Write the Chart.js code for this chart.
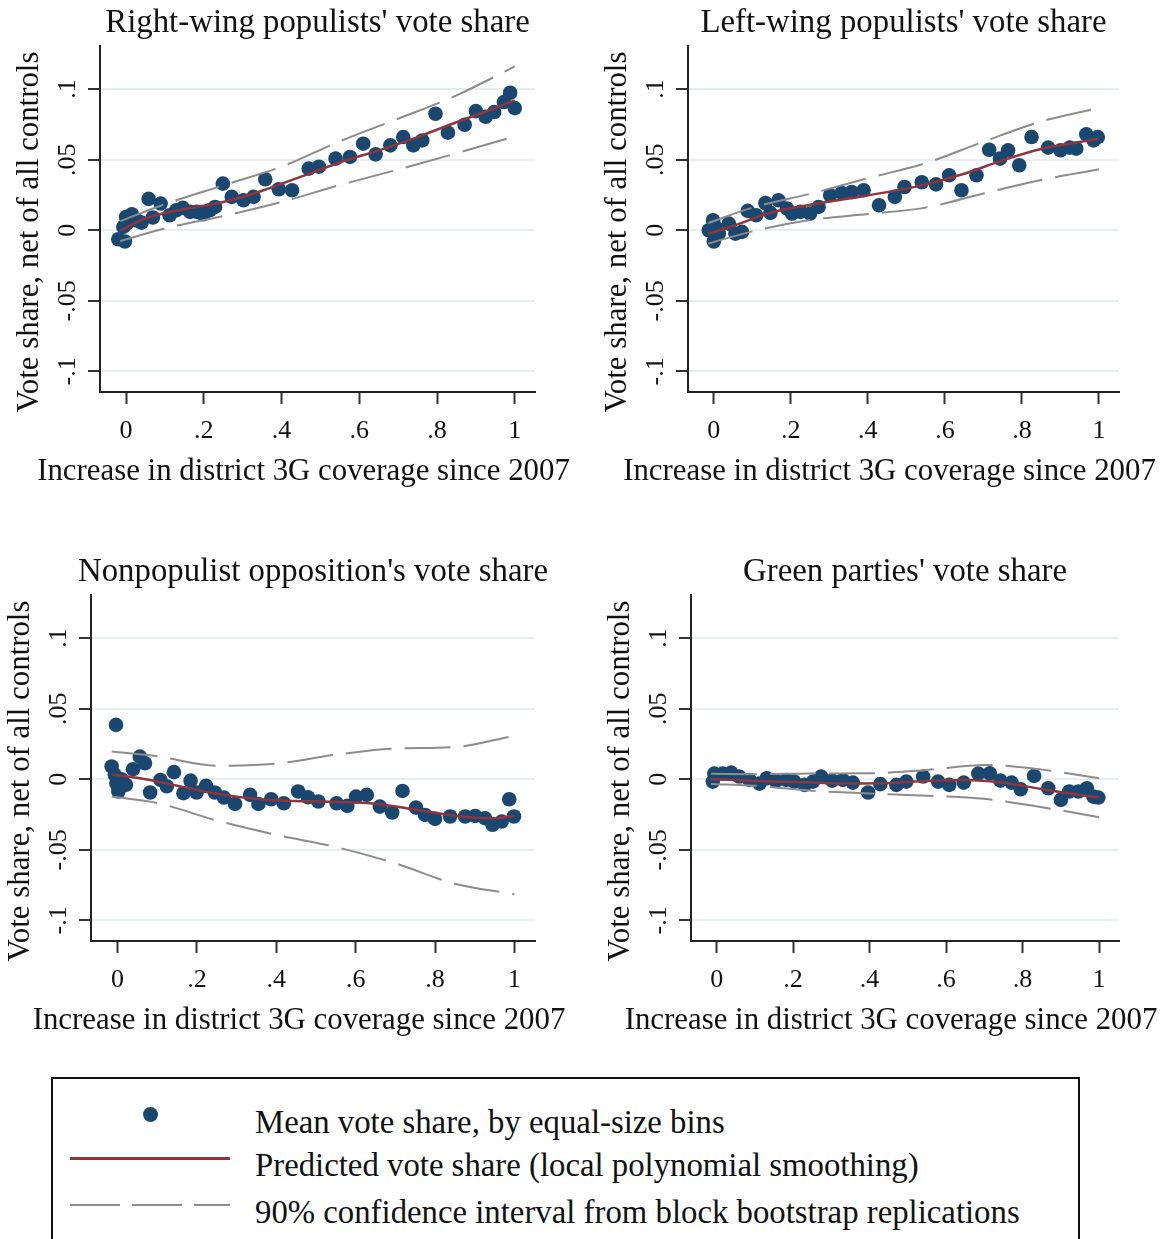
<!DOCTYPE html>
<html>
<head>
<meta charset="utf-8">
<script src="https://cdn.jsdelivr.net/npm/chart.js@4.4.1/dist/chart.umd.min.js"></script>
<style>
html,body{margin:0;padding:0;background:#fff;}
#wrap{position:relative;width:1165px;height:1239px;overflow:hidden;background:#fff;font-family:"Liberation Serif",serif;color:#111;}
#wrap canvas{position:absolute;}
#legend{position:absolute;left:51px;top:1077px;width:1029px;height:200px;border:2px solid #111;box-sizing:border-box;}
#legend .dot{position:absolute;width:15px;height:15px;border-radius:50%;background:#1a476f;}
#legend .red{position:absolute;height:3px;background:#90353b;}
#legend .dash{position:absolute;height:2.5px;background:repeating-linear-gradient(to right,#8c8c8c 0 50px,transparent 50px 62px);}
#legend .txt{position:absolute;white-space:nowrap;line-height:1;}
</style>
</head>
<body>
<div id="wrap">
  <canvas id="c1" width="583" height="540" style="left:0;top:0"></canvas>
  <canvas id="c2" width="582" height="540" style="left:583px;top:0"></canvas>
  <canvas id="c3" width="583" height="520" style="left:0;top:540px"></canvas>
  <canvas id="c4" width="582" height="520" style="left:583px;top:540px"></canvas>
  <div id="legend"></div>
</div>
<script>
// ---------- tick labels ----------
const xTickVals = [0, 0.2, 0.4, 0.6, 0.8, 1];
const xTickLabels = ["0", ".2", ".4", ".6", ".8", "1"];
const yTickVals = [-0.1, -0.05, 0, 0.05, 0.1];
const yTickLabels = ["-.1", "-.05", "0", ".05", ".1"];

const panelTitles = ["Right-wing populists' vote share", "Left-wing populists' vote share",
                     "Nonpopulist opposition's vote share", "Green parties' vote share"];
const xAxisTitle = "Increase in district 3G coverage since 2007";
const yAxisTitle = "Vote share, net of all controls";
const legendLabels = ["Mean vote share, by equal-size bins",
                      "Predicted vote share (local polynomial smoothing)",
                      "90% confidence interval from block bootstrap replications"];

// ---------- shared x grids for fitted line and CI ----------
const fitX = [-0.015, 0.05, 0.15, 0.25, 0.35, 0.45, 0.55, 0.65, 0.75, 0.85, 0.95, 1.0];
const ciX  = [-0.015, 0.1, 0.25, 0.4, 0.55, 0.7, 0.85, 1.0];

// ---------- Right-wing populists ----------
const rwX = [-0.020,-0.003,-0.007,0.002,0.000,0.015,0.027,0.040,0.058,0.069,0.089,0.112,0.129,0.146,0.165,0.182,0.199,0.215,0.229,0.249,0.272,0.302,0.328,0.358,0.393,0.427,0.470,0.496,0.539,0.576,0.610,0.642,0.680,0.713,0.739,0.762,0.796,0.828,0.871,0.900,0.925,0.947,0.972,0.988,1.000];
const rwY = [-0.0064,-0.0080,0.0024,0.0047,0.0094,0.0113,0.0070,0.0054,0.0222,0.0090,0.0189,0.0106,0.0141,0.0158,0.0130,0.0130,0.0113,0.0141,0.0165,0.0330,0.0236,0.0212,0.0236,0.0361,0.0290,0.0283,0.0436,0.0450,0.0507,0.0519,0.0613,0.0537,0.0601,0.0660,0.0601,0.0636,0.0825,0.0691,0.0747,0.0844,0.0804,0.0837,0.0908,0.0974,0.0865];
const rwFit = [-0.0003,0.0085,0.0150,0.0200,0.0280,0.0380,0.0480,0.0566,0.0660,0.0765,0.0866,0.0920];
const rwHi  = [0.0064,0.0185,0.0318,0.0450,0.0630,0.0790,0.0955,0.1160];
const rwLo  = [-0.0078,0.0013,0.0100,0.0200,0.0320,0.0430,0.0545,0.0665];

// ---------- Left-wing populists ----------
const lwX = [-0.013,-0.002,0.000,0.013,0.004,0.039,0.056,0.073,0.088,0.110,0.134,0.147,0.168,0.190,0.203,0.225,0.250,0.272,0.302,0.332,0.358,0.389,0.429,0.470,0.495,0.540,0.577,0.611,0.643,0.682,0.715,0.743,0.764,0.793,0.825,0.868,0.900,0.924,0.941,0.967,0.986,0.997];
const lwY = [0.0000,0.0071,-0.0080,-0.0024,0.0024,0.0047,-0.0024,-0.0012,0.0137,0.0106,0.0193,0.0123,0.0212,0.0153,0.0118,0.0130,0.0118,0.0165,0.0248,0.0264,0.0271,0.0283,0.0177,0.0236,0.0306,0.0340,0.0325,0.0389,0.0283,0.0389,0.0570,0.0507,0.0566,0.0460,0.0660,0.0585,0.0566,0.0585,0.0578,0.0679,0.0636,0.0660];
const lwFit = [-0.0025,0.0030,0.0125,0.0180,0.0225,0.0270,0.0325,0.0400,0.0495,0.0575,0.0625,0.0648];
const lwHi  = [0.0050,0.0160,0.0258,0.0368,0.0475,0.0627,0.0770,0.0867];
const lwLo  = [-0.0095,-0.0008,0.0072,0.0115,0.0160,0.0260,0.0356,0.0432];

// ---------- Nonpopulist opposition ----------
const npX = [-0.004,-0.015,-0.007,-0.003,0.002,0.010,0.021,0.039,0.056,0.069,0.082,0.108,0.124,0.142,0.166,0.184,0.199,0.223,0.245,0.268,0.296,0.334,0.355,0.387,0.419,0.455,0.480,0.506,0.552,0.579,0.601,0.628,0.661,0.692,0.718,0.752,0.775,0.800,0.838,0.876,0.901,0.926,0.945,0.968,0.987,0.999];
const npY = [0.0385,0.0090,0.0031,-0.0031,-0.0087,0.0000,-0.0040,0.0071,0.0160,0.0113,-0.0094,-0.0005,-0.0050,0.0050,-0.0099,-0.0010,-0.0094,-0.0047,-0.0094,-0.0130,-0.0175,-0.0111,-0.0175,-0.0142,-0.0170,-0.0087,-0.0128,-0.0158,-0.0170,-0.0189,-0.0123,-0.0111,-0.0194,-0.0236,-0.0083,-0.0201,-0.0253,-0.0281,-0.0264,-0.0264,-0.0260,-0.0276,-0.0323,-0.0300,-0.0142,-0.0264];
const npFit = [0.0035,0.0010,-0.0046,-0.0103,-0.0140,-0.0155,-0.0161,-0.0173,-0.0215,-0.0258,-0.0276,-0.0260];
const npHi  = [0.0196,0.0162,0.0096,0.0111,0.0174,0.0217,0.0228,0.0308];
const npLo  = [-0.0123,-0.0168,-0.0293,-0.0394,-0.0480,-0.0596,-0.0740,-0.0815];

// ---------- Green parties ----------
const grX = [-0.010,-0.006,0.016,0.038,0.059,0.086,0.112,0.131,0.155,0.182,0.203,0.230,0.252,0.273,0.302,0.330,0.356,0.396,0.428,0.470,0.496,0.540,0.579,0.608,0.646,0.684,0.714,0.742,0.771,0.795,0.830,0.867,0.900,0.922,0.946,0.968,0.985,0.998];
const grY = [-0.0017,0.0040,0.0040,0.0047,0.0019,-0.0005,-0.0031,0.0007,-0.0012,-0.0005,-0.0017,-0.0040,-0.0017,0.0019,-0.0010,-0.0005,-0.0024,-0.0094,-0.0035,-0.0040,-0.0017,0.0019,-0.0017,-0.0040,-0.0024,0.0040,0.0042,-0.0010,-0.0024,-0.0071,0.0024,-0.0064,-0.0146,-0.0087,-0.0087,-0.0064,-0.0123,-0.0130];
const grFit = [0.0000,-0.0006,-0.0016,-0.0024,-0.0030,-0.0027,-0.0013,-0.0006,-0.0025,-0.0070,-0.0112,-0.0128];
const grHi  = [0.0038,0.0036,0.0041,0.0042,0.0066,0.0101,0.0068,0.0007];
const grLo  = [-0.0033,-0.0046,-0.0082,-0.0101,-0.0117,-0.0139,-0.0198,-0.0269];

const FONT = '"Liberation Serif", "Times New Roman", serif';
const C_DOT = '#1a476f', C_FIT = '#90353b', C_CI = '#8c8c8c', C_GRID = '#e6eef0', C_AXIS = '#222';

function pairs(xs, ys){ return xs.map((x,i)=>({x:x, y:ys[i]})); }

function build(){
  const mc = document.createElement('canvas').getContext('2d');
  function fit(text, target){ mc.font = '100px ' + FONT; return 100*target/mc.measureText(text).width; }
  const titleTargets = [420, 402, 478, 326];
  let ts = 0; panelTitles.forEach((t,i)=>{ ts += fit(t, titleTargets[i]); });
  const titleSize = ts/4;
  const axisTitleSize = (fit(xAxisTitle, 527) + fit(yAxisTitle, 365))/2;
  const tickSize = 26;

  const textPlugin = {
    id: 'stataText',
    afterDraw(chart, args, opts){
      const ctx = chart.ctx, ca = chart.chartArea;
      const xs = chart.scales.x, ys = chart.scales.y;
      const mid = (ca.left + ca.right)/2;
      ctx.save();
      ctx.fillStyle = '#111';
      // panel title
      ctx.font = titleSize.toFixed(2) + 'px ' + FONT;
      ctx.textAlign = 'center'; ctx.textBaseline = 'alphabetic';
      ctx.fillText(opts.title, mid, ca.top - 14);
      // x tick labels
      ctx.font = tickSize + 'px ' + FONT;
      xTickVals.forEach((v,i)=>{ ctx.fillText(xTickLabels[i], xs.getPixelForValue(v), ca.bottom + 46); });
      // x axis title
      ctx.font = axisTitleSize.toFixed(2) + 'px ' + FONT;
      ctx.fillText(xAxisTitle, mid - 14, ca.bottom + 88);
      // y tick labels (rotated)
      ctx.font = tickSize + 'px ' + FONT;
      yTickVals.forEach((v,i)=>{
        ctx.save();
        ctx.translate(ca.left - 25, ys.getPixelForValue(v));
        ctx.rotate(-Math.PI/2);
        ctx.fillText(yTickLabels[i], 0, 0);
        ctx.restore();
      });
      // y axis title (rotated)
      ctx.font = axisTitleSize.toFixed(2) + 'px ' + FONT;
      ctx.save();
      ctx.translate(ca.left - 62, (ca.top + ca.bottom)/2 + 13);
      ctx.rotate(-Math.PI/2);
      ctx.fillText(yAxisTitle, 0, 0);
      ctx.restore();
      ctx.restore();
    }
  };

  function makeChart(id, title, px, py, fy, hi, lo, geo){
    const el = document.getElementById(id);
    return new Chart(el, {
      type: 'scatter',
      data: { datasets: [
        { type:'line', label:'fit', data: pairs(fitX, fy), borderColor:C_FIT, borderWidth:2.5,
          pointRadius:0, cubicInterpolationMode:'monotone', fill:false, order:1 },
        { type:'line', label:'hi', data: pairs(ciX, hi), borderColor:C_CI, borderWidth:2,
          borderDash:[46,13], pointRadius:0, cubicInterpolationMode:'monotone', fill:false, order:2 },
        { type:'line', label:'lo', data: pairs(ciX, lo), borderColor:C_CI, borderWidth:2,
          borderDash:[46,13], pointRadius:0, cubicInterpolationMode:'monotone', fill:false, order:2 },
        { type:'scatter', label:'bins', data: pairs(px, py), backgroundColor:C_DOT, borderColor:C_DOT,
          borderWidth:0, pointRadius:7.3, order:3 }
      ]},
      options: {
        responsive:false, animation:false, devicePixelRatio:1, events:[],
        layout:{ padding:{ left:0, top:geo.top, right:geo.right, bottom:0 } },
        plugins:{ legend:{display:false}, tooltip:{enabled:false}, title:{display:false},
                  stataText:{ title:title } },
        scales:{
          x:{ type:'linear', min:-0.067, max:1.052,
              afterBuildTicks: s => { s.ticks = xTickVals.map(v=>({value:v})); },
              afterFit: s => { s.height = geo.xh; },
              ticks:{ display:false },
              grid:{ drawOnChartArea:false, drawTicks:true, tickLength:12, tickColor:'#333', tickWidth:2 },
              border:{ display:true, color:C_AXIS, width:2 } },
          y:{ type:'linear', min:-0.1146, max:0.1305,
              afterBuildTicks: s => { s.ticks = yTickVals.map(v=>({value:v})); },
              afterFit: s => { s.width = geo.yw; },
              ticks:{ display:false },
              grid:{ color:C_GRID, lineWidth:2, drawTicks:true, tickLength:12, tickColor:'#333', tickWidth:2 },
              border:{ display:true, color:C_AXIS, width:2 } }
        }
      },
      plugins:[textPlugin]
    });
  }

  makeChart('c1', panelTitles[0], rwX, rwY, rwFit, rwHi, rwLo, {top:46, right:48, xh:148, yw:100});
  makeChart('c2', panelTitles[1], lwX, lwY, lwFit, lwHi, lwLo, {top:46, right:46, xh:148, yw:105});
  makeChart('c3', panelTitles[2], npX, npY, npFit, npHi, npLo, {top:55, right:48, xh:119, yw:91});
  makeChart('c4', panelTitles[3], grX, grY, grFit, grHi, grLo, {top:55, right:46, xh:119, yw:108});

  // legend (HTML)
  const lg = document.getElementById('legend');
  const lt = [465, 662, 775];
  let ls = 0; legendLabels.forEach((t,i)=>{ ls += fit(t, lt[i]); });
  const legSize = ls/3;
  const inX = 53, inY = 1079; // inner origin of the legend box
  const dot = document.createElement('div'); dot.className='dot';
  dot.style.left = (150 - inX - 7.5) + 'px'; dot.style.top = (1114 - inY - 7.5) + 'px'; lg.appendChild(dot);
  const red = document.createElement('div'); red.className='red';
  red.style.left = (70 - inX) + 'px'; red.style.width = '160px'; red.style.top = (1158 - inY - 1.5) + 'px'; lg.appendChild(red);
  const dash = document.createElement('div'); dash.className='dash';
  dash.style.left = (70 - inX) + 'px'; dash.style.width = '160px'; dash.style.top = (1205 - inY - 1.25) + 'px'; lg.appendChild(dash);
  const baselines = [1133, 1176, 1223];
  legendLabels.forEach((t,i)=>{
    const d = document.createElement('div'); d.className='txt';
    d.textContent = t;
    d.style.fontSize = legSize.toFixed(2) + 'px';
    d.style.left = (255 - inX) + 'px';
    d.style.top = (baselines[i] - inY - 0.8375*legSize).toFixed(1) + 'px';
    lg.appendChild(d);
  });
}

if (document.fonts && document.fonts.load) {
  document.fonts.load('30px "Liberation Serif"').then(build, build);
} else { build(); }
</script>
</body>
</html>
